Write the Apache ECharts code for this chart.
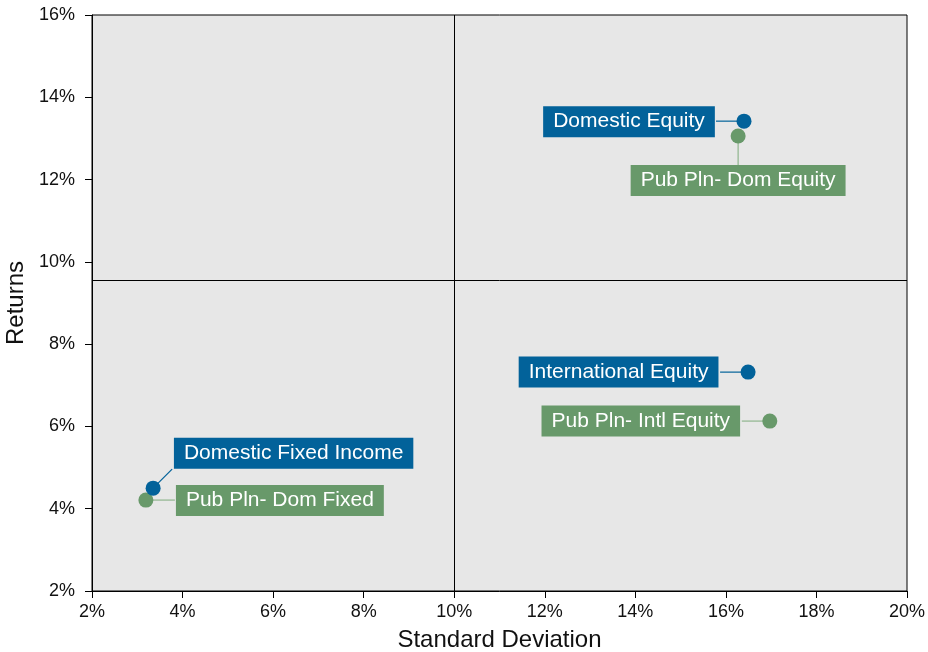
<!DOCTYPE html>
<html>
<head>
<meta charset="utf-8">
<script src="https://cdn.jsdelivr.net/npm/echarts@6/dist/echarts.min.js"></script>
<style>html,body{margin:0;padding:0;background:#fff}#c{width:928px;height:652px}</style>
</head>
<body>
<div id="c"></div>
<script>
// Data
var assetNames = ['Domestic Equity', 'International Equity', 'Domestic Fixed Income'];
var assetStdDev = [16.40, 16.49, 3.35];
var assetReturns = [13.42, 7.32, 4.50];

var planNames = ['Pub Pln- Dom Equity', 'Pub Pln- Intl Equity', 'Pub Pln- Dom Fixed'];
var planStdDev = [16.27, 16.97, 3.19];
var planReturns = [13.06, 6.13, 4.21];

var xTicks = [2, 4, 6, 8, 10, 12, 14, 16, 18, 20];
var yTicks = [2, 4, 6, 8, 10, 12, 14, 16];
var quadrantX = 10;
var quadrantY = 9.55;

// Styling (label offsets and leader-line ends, in pixels relative to the point)
var assetOffsets = [[-115, 0.5], [-129.5, 0], [140.5, -35]];
var planOffsets = [[0, 44.5], [-129, 0], [134, 0.5]];
var assetLineEnds = [[-28, 0], [-28, 0], [19, -19]];
var planLineEnds = [[0, 29], [-28, 0], [29, 0]];

var BLUE = '#02629A';
var GREEN = '#68996A';
var GREEN_LINE = '#8FB58E';

function build(names, xs, ys, offs) {
  return names.map(function (n, i) {
    return { name: n, value: [xs[i], ys[i]], label: { offset: offs[i] } };
  });
}
function leaderSeries(xs, ys, ends, color) {
  return {
    type: 'custom', z: 1, silent: true,
    data: xs.map(function (x, i) { return [x, ys[i]]; }),
    renderItem: function (params, api) {
      var p = api.coord([api.value(0), api.value(1)]);
      var e = ends[params.dataIndex];
      return {
        type: 'line',
        shape: { x1: p[0], y1: p[1], x2: p[0] + e[0], y2: p[1] + e[1] },
        style: { stroke: color, lineWidth: 1.2 }
      };
    }
  };
}

var chart = echarts.init(document.getElementById('c'));
var font = 'Arial, "Liberation Sans", sans-serif';
function labelStyle(bg) {
  return {
    show: true, position: 'inside', formatter: '{b}', opacity: 1,
    backgroundColor: bg, color: '#fff', fontSize: 21, fontFamily: font,
    padding: [5, 10, 5, 10]
  };
}
chart.setOption({
  animation: false,
  textStyle: { fontFamily: font },
  grid: { left: 92, right: 21, top: 15, bottom: 61, outerBoundsMode: 'none', containLabel: false, show: true, backgroundColor: '#E7E7E7', borderColor: '#000', borderWidth: 1 },
  xAxis: {
    type: 'value', min: xTicks[0], max: xTicks[xTicks.length - 1], interval: 2,
    name: 'Standard Deviation', nameLocation: 'middle', nameGap: 37,
    nameTextStyle: { fontSize: 24, color: '#111', fontFamily: font },
    axisLine: { show: true, lineStyle: { color: '#000', width: 1 } },
    axisTick: { show: true, inside: false, length: 7, lineStyle: { color: '#000' } },
    axisLabel: { formatter: '{value}%', fontSize: 18, color: '#111', margin: 12, fontFamily: font },
    splitLine: { show: false }
  },
  yAxis: {
    type: 'value', min: yTicks[0], max: yTicks[yTicks.length - 1], interval: 2,
    name: 'Returns', nameLocation: 'middle', nameGap: 53, nameRotate: 90,
    nameTextStyle: { fontSize: 24, color: '#111', fontFamily: font },
    axisLine: { show: true, lineStyle: { color: '#000', width: 1 } },
    axisTick: { show: true, inside: false, length: 7, lineStyle: { color: '#000' } },
    axisLabel: { formatter: '{value}%', fontSize: 18, color: '#111', margin: 17, fontFamily: font },
    splitLine: { show: false }
  },
  series: [
    leaderSeries(assetStdDev, assetReturns, assetLineEnds, BLUE),
    leaderSeries(planStdDev, planReturns, planLineEnds, GREEN_LINE),
    {
      type: 'scatter', z: 3,
      symbolSize: 15,
      itemStyle: { color: BLUE, opacity: 1 },
      data: build(assetNames, assetStdDev, assetReturns, assetOffsets),
      label: labelStyle(BLUE),
      markLine: {
        silent: true, symbol: 'none', label: { show: false },
        lineStyle: { color: '#000', width: 1, type: 'solid' },
        data: [{ xAxis: quadrantX }, { yAxis: quadrantY }]
      }
    },
    {
      type: 'scatter', z: 2,
      symbolSize: 15,
      itemStyle: { color: GREEN, opacity: 1 },
      data: build(planNames, planStdDev, planReturns, planOffsets),
      label: labelStyle(GREEN)
    }
  ]
});
</script>
</body>
</html>
